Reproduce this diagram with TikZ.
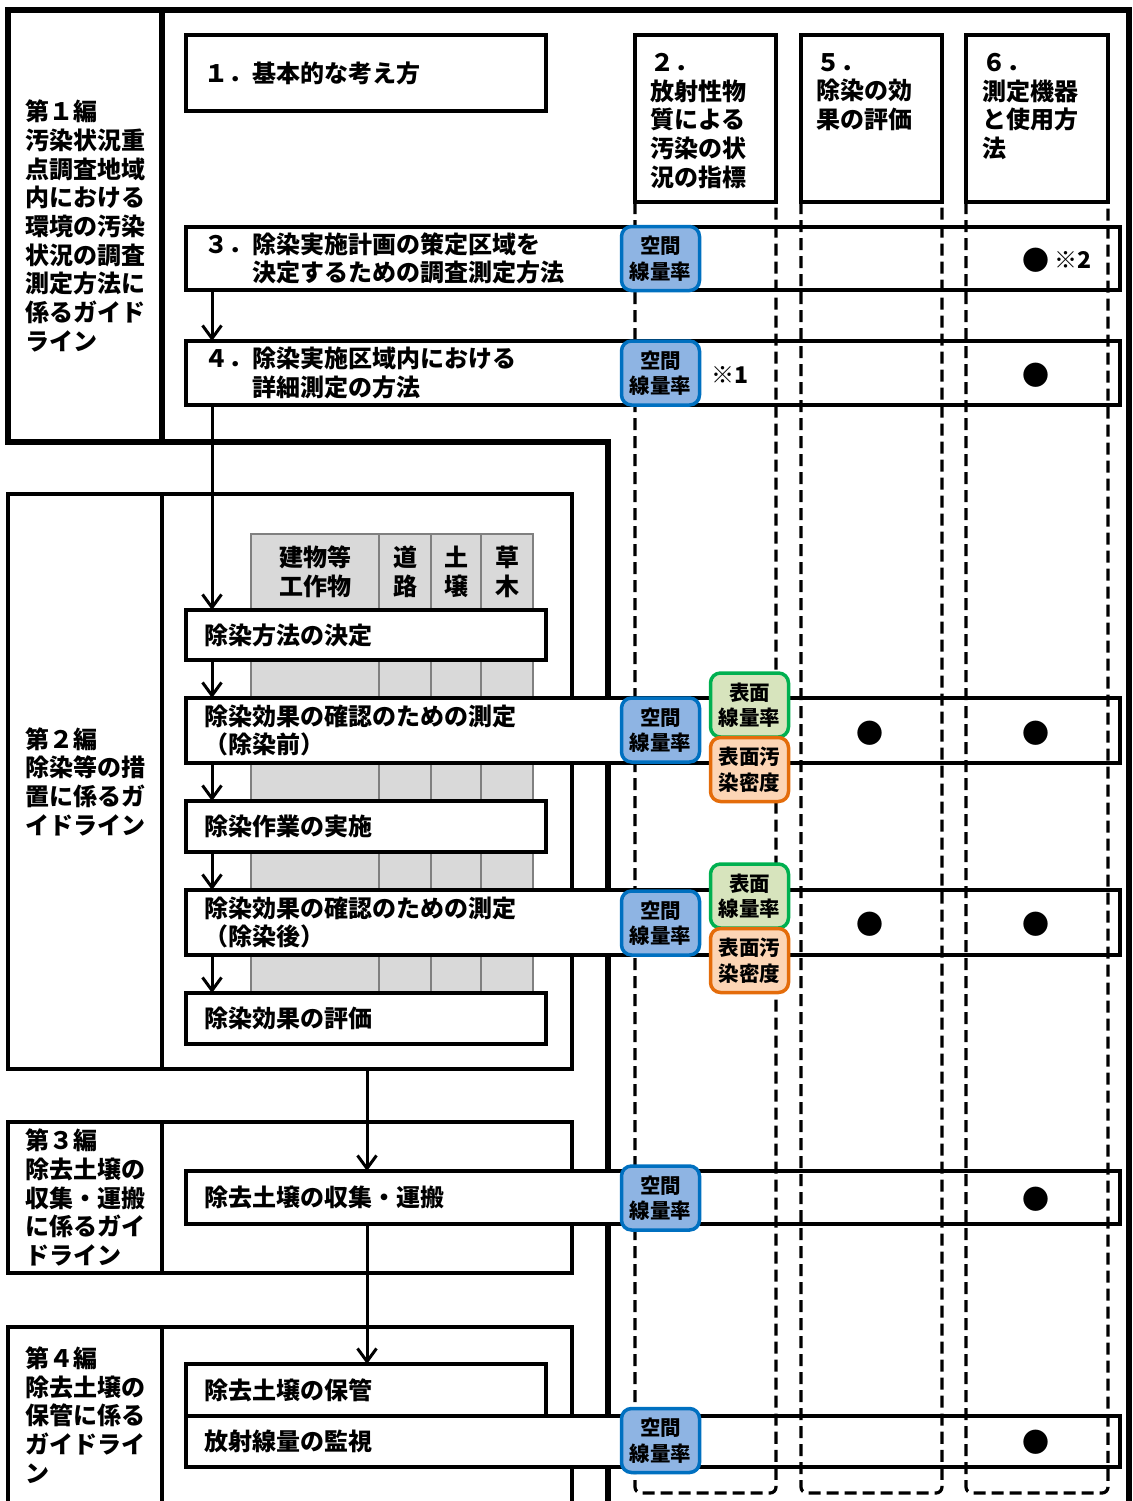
\documentclass[tikz,border=0pt]{standalone}
\usepackage{fontspec}
\setmainfont{Noto Sans CJK JP}
\usetikzlibrary{arrows.meta,calc}
\definecolor{bfill}{HTML}{8EB4E3}
\definecolor{bdraw}{HTML}{0070C0}
\definecolor{gfill}{HTML}{D7E4BD}
\definecolor{gdraw}{HTML}{00B050}
\definecolor{ofill}{HTML}{FCD5B5}
\definecolor{odraw}{HTML}{E46C0A}
\definecolor{tgray}{HTML}{D9D9D9}
\definecolor{tline}{HTML}{808080}
\tikzset{
  jp/.style={font=\fontsize{24}{28.7}\selectfont\bfseries},
  jpsmall/.style={font=\fontsize{20.5}{25.5}\selectfont\bfseries},
  heavy/.style={line width=5.5pt},
  lbl/.style={draw, line width=3.5pt, outer sep=0pt, inner xsep=17pt, inner ysep=0pt, anchor=north west, align=left, text width=120pt, jp},
  emptyfrm/.style={draw, line width=3.5pt, outer sep=0pt, inner sep=0pt, anchor=north west},
  flowbox/.style={draw, fill=white, line width=3.5pt, outer sep=0pt, inner xsep=18pt, inner ysep=0pt, anchor=north west, align=left, jp},
  wide/.style={flowbox, text width=898pt},
  short/.style={flowbox, text width=324pt},
  colbox/.style={draw, fill=white, line width=3.5pt, outer sep=0pt, inner sep=0pt, anchor=north west, minimum height=167pt},
  coltext/.style={anchor=north west, inner sep=0pt, align=left, jp},
  dashcol/.style={line width=3.2pt, dash pattern=on 12pt off 6pt, rounded corners=6pt},
  graycol/.style={fill=tgray, draw=tline, line width=1.5pt},
  thead/.style={align=center, inner sep=0pt, jp},
  badge/.style={draw, line width=3.5pt, rounded corners=10pt, minimum width=78pt, minimum height=64pt, inner sep=0pt, align=center, jpsmall},
  bluebadge/.style={badge, fill=bfill, draw=bdraw},
  greenbadge/.style={badge, fill=gfill, draw=gdraw},
  orangebadge/.style={badge, fill=ofill, draw=odraw},
  dot/.style={inner sep=0pt, font=\fontsize{27}{27}\selectfont},
  note/.style={inner sep=0pt, anchor=west, font=\fontsize{23}{23}\selectfont\bfseries},
  arr/.style={line width=3pt, -{Straight Barb[length=13pt,width=19pt]}},
}
\begin{document}
\begin{tikzpicture}[x=1pt,y=-1pt,line join=miter]
\useasboundingbox (0,0) rectangle (1132,1501);
% ---------- frames ----------
\node[lbl, heavy, minimum width=154pt, minimum height=432pt] (p1l) at (8,10)
  {第１編\\汚染状況重\\点調査地域\\内における\\環境の汚染\\状況の調査\\測定方法に\\係るガイド\\ライン};
\draw[heavy] (p1l.north east) -- (1129,10) -- (1129,1530);
\draw[heavy] (p1l.south east) -- (608,442) -- (608,1530);

\node[lbl, minimum width=154pt, minimum height=575pt] (p2l) at (8,494)
  {第２編\\除染等の措\\置に係るガ\\イドライン};
\node[emptyfrm, minimum width=410pt, minimum height=575pt] (p2c) at (162,494) {};
\node[lbl, minimum width=154pt, minimum height=151pt] (p3l) at (8,1122)
  {第３編\\除去土壌の\\収集・運搬\\に係るガイ\\ドライン};
\node[emptyfrm, minimum width=410pt, minimum height=151pt] (p3c) at (162,1122) {};
\node[lbl, minimum width=154pt, minimum height=176pt] (p4l) at (8,1327)
  {第４編\\除去土壌の\\保管に係る\\ガイドライ\\ン};
\node[emptyfrm, minimum width=410pt, minimum height=176pt] (p4c) at (162,1327) {};

% ---------- gray table ----------
\draw[graycol] (251,534) rectangle (379,993);
\draw[graycol] (379,534) rectangle (431,993);
\draw[graycol] (431,534) rectangle (481,993);
\draw[graycol] (481,534) rectangle (533,993);
\node[thead] (t1) at (315,572) {建物等\\工作物};
\node[thead] (t2) at (405,572) {道\\路};
\node[thead] (t3) at (456,572) {土\\壌};
\node[thead] (t4) at (507,572) {草\\木};

% ---------- boxes ----------
\node[short, minimum height=76pt] (b1) at (186,35) {１．基本的な考え方};
\node[colbox, minimum width=141pt] (h2) at (635,35) {};
\node[colbox, minimum width=141pt] (h5) at (801,35) {};
\node[colbox, minimum width=142pt] (h6) at (966,35) {};
\node[coltext] (h2t) at (650,53) {２．\\放射性物\\質による\\汚染の状\\況の指標};
\node[coltext] (h5t) at (816,53) {５．\\除染の効\\果の評価};
\node[coltext] (h6t) at (982,53) {６．\\測定機器\\と使用方\\法};

\node[wide, minimum height=63pt] (r3) at (186,227)
  {３．除染実施計画の策定区域を\\\hspace*{2em}決定するための調査測定方法};
\node[wide, minimum height=64pt] (r4) at (186,341)
  {４．除染実施区域内における\\\hspace*{2em}詳細測定の方法};
\node[short, minimum height=50pt] (m1) at (186,610) {除染方法の決定};
\node[wide, minimum height=65pt] (r5) at (186,698)
  {除染効果の確認のための測定\\（除染前）};
\node[short, minimum height=51pt] (m2) at (186,801) {除染作業の実施};
\node[wide, minimum height=65pt] (r6) at (186,890)
  {除染効果の確認のための測定\\（除染後）};
\node[short, minimum height=51pt] (m3) at (186,993) {除染効果の評価};
\node[wide, minimum height=53pt] (r7) at (186,1171) {除去土壌の収集・運搬};
\node[short, minimum height=52pt] (s1) at (186,1364) {除去土壌の保管};
\node[wide, minimum height=51pt] (r8) at (186,1416) {放射線量の監視};

% ---------- dashed columns ----------
\draw[dashcol] (h2.south west) -- (635,1493) -- (776,1493) -- (h2.south east);
\draw[dashcol] (h5.south west) -- (801,1493) -- (942,1493) -- (h5.south east);
\draw[dashcol] (h6.south west) -- (966,1493) -- (1108,1493) -- (h6.south east);

% ---------- badges ----------
\node[bluebadge] (k3) at (660.5,258.5) {空間\\線量率};
\node[bluebadge] (k4) at (660.5,373) {空間\\線量率};
\node[bluebadge] (k5) at (660.5,730) {空間\\線量率};
\node[greenbadge] (g5) at (749.5,705) {表面\\線量率};
\node[orangebadge] (o5) at (749.5,769.5) {表面汚\\染密度};
\node[bluebadge] (k6) at (660.5,923) {空間\\線量率};
\node[greenbadge] (g6) at (749.5,896) {表面\\線量率};
\node[orangebadge] (o6) at (749.5,960.5) {表面汚\\染密度};
\node[bluebadge] (k7) at (660.5,1198) {空間\\線量率};
\node[bluebadge] (k8) at (660.5,1440.5) {空間\\線量率};

% ---------- marks ----------
\node[dot] (d3) at (1036,260) {●};
\node[note] (n2) at (1054,260) {※2};
\node[dot] (d4) at (1036,375) {●};
\node[note] (n1) at (711,375) {※1};
\node[dot] (d5a) at (870,733) {●};
\node[dot] (d5b) at (1036,733) {●};
\node[dot] (d6a) at (870,924) {●};
\node[dot] (d6b) at (1036,924) {●};
\node[dot] (d7) at (1036,1199) {●};
\node[dot] (d8) at (1036,1442) {●};

% ---------- connectors ----------
\coordinate (ax) at (212,0);
\coordinate (bx) at (367,0);
\draw[arr] (r3.south -| ax) -- (r4.north -| ax);
\draw[arr] (r4.south -| ax) -- (m1.north -| ax);
\draw[arr] (m1.south -| ax) -- (r5.north -| ax);
\draw[arr] (r5.south -| ax) -- (m2.north -| ax);
\draw[arr] (m2.south -| ax) -- (r6.north -| ax);
\draw[arr] (r6.south -| ax) -- (m3.north -| ax);
\draw[arr] (p2c.south -| bx) -- (r7.north -| bx);
\draw[arr] (r7.south -| bx) -- (s1.north -| bx);
\end{tikzpicture}
\end{document}
